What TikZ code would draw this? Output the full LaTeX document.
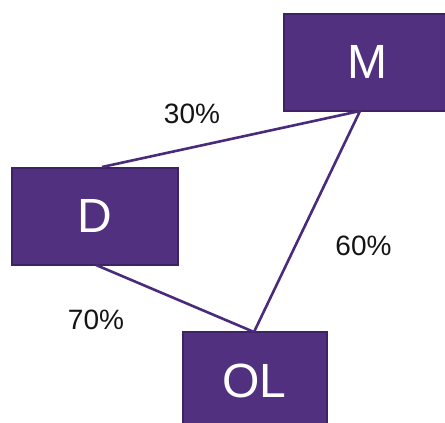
\documentclass[tikz,border=0pt]{standalone}
\usepackage{fontspec}
\setmainfont{Liberation Sans}
\definecolor{boxfill}{HTML}{51307F}
\definecolor{boxedge}{HTML}{3E2266}
\definecolor{linkcol}{HTML}{4A2A7C}
\begin{document}
\begin{tikzpicture}[x=1pt,y=-1pt,
  unitbox/.style={draw=boxedge,fill=boxfill,line width=2pt,text=white,
    font=\fontsize{48}{48}\selectfont,inner sep=0pt},
  link/.style={draw=linkcol,line width=2.6pt},
  share/.style={font=\fontsize{28}{28}\selectfont,text=black!92}]
  \useasboundingbox (0,0) rectangle (445,423);
  \begin{scope}
    \clip (0,0) rectangle (445,423);
    % boxes
    \node[unitbox,minimum width=166pt,minimum height=97pt] (M) at (367,62) {M};
    \node[unitbox,minimum width=166pt,minimum height=97pt] (D) at (94.5,216) {D};
    \node[unitbox,minimum width=144pt,minimum height=150pt] (OL) at (254.5,407) {};
    \node[text=white,font=\fontsize{48}{48}\selectfont] (OLtext) at (254.5,381) {OL};
    % anchor points on the box edges
    \coordinate (Mb) at (360,111);
    \coordinate (Dt) at (102,167);
    \coordinate (Db) at (96,265);
    \coordinate (OLt) at (254,332);
    % connectors
    \draw[link] (Dt) -- (Mb);
    \draw[link] (Mb) -- (OLt);
    \draw[link] (Db) -- (OLt);
  \end{scope}
  % shares
  \node[share] (p30) at (192,114) {30\%};
  \node[share] (p60) at (363.5,246) {60\%};
  \node[share] (p70) at (96,320) {70\%};
\end{tikzpicture}
\end{document}
